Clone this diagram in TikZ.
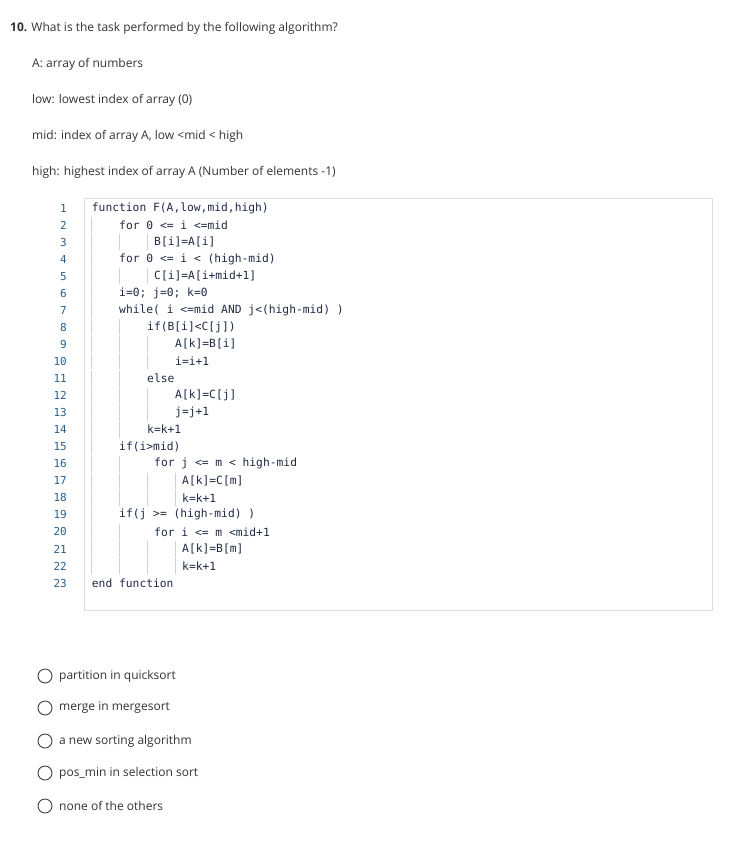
\documentclass[tikz,border=0pt]{standalone}
\usepackage{fontspec}
\setmainfont{Open Sans}
\setmonofont{DejaVu Sans Mono}
\definecolor{txt}{HTML}{333333}
\definecolor{lnum}{HTML}{2B5F8A}
\definecolor{code}{HTML}{1F2A44}
\definecolor{guide}{HTML}{D0D0D0}
\definecolor{frame}{HTML}{DDDDDD}
\begin{document}
\begin{tikzpicture}[x=1pt,y=-1pt,
  qtext/.style={anchor=west,inner sep=0,text=txt,font=\fontsize{12}{14}\selectfont},
  cline/.style={anchor=west,inner sep=0,text=code,font=\ttfamily\fontsize{11.3}{13}\selectfont},
  lno/.style={anchor=east,inner sep=0,text=lnum,font=\ttfamily\fontsize{11}{13}\selectfont},
  radio/.style={circle,draw=black!75,line width=0.9pt,minimum size=14pt,inner sep=0}]
\useasboundingbox (0,0) rectangle (746,841);
\node[qtext] (q) at (10,28) {\textbf{10.} What is the task performed by the following algorithm?};
\node[qtext] (l1) at (32,64) {A: array of numbers};
\node[qtext] (l2) at (32,100) {low: lowest index of array (0)};
\node[qtext] (l3) at (32,136) {mid: index of array A, low <mid < high};
\node[qtext] (l4) at (32,172) {high: highest index of array A (Number of elements -1)};
\draw[frame,line width=1pt] (84,198.5) rectangle (712.5,610);
% guides
\foreach \ln/\gs in {2/{91.7},3/{91.7,119,147},4/{91.7},5/{91.7,119,147},6/{91.7},7/{91.7},8/{91.7,119},9/{91.7,119,147},10/{91.7,119,147},11/{91.7,119},12/{91.7,119,147},13/{91.7,119,147},14/{91.7,119},15/{91.7},16/{91.7,119},17/{91.7,119,147,175},18/{91.7,119,147,175},19/{91.7},20/{91.7,119},21/{91.7,119,147,175},22/{91.7,119,147,175}}{
  \foreach \g in \gs {\draw[guide,line width=0.9pt] (\g,{208+(\ln-1)*17.05-8}) -- (\g,{208+(\ln-1)*17.05+8});}
}
\foreach \ln/\x/\t in {1/91.7/{function F(A,low,mid,high)},2/119/{for 0 <= i <=mid},3/154/{B[i]=A[i]},4/119/{for 0 <= i < (high-mid)},5/154/{C[i]=A[i+mid+1]},6/119/{i=0; j=0; k=0},7/119/{while( i <=mid  AND  j<(high-mid) )},8/147/{if(B[i]<C[j])},9/175/{A[k]=B[i]},10/175/{i=i+1},11/147/{else},12/175/{A[k]=C[j]},13/175/{j=j+1},14/147/{k=k+1},15/119/{if(i>mid)},16/154/{for j <= m < high-mid},17/182/{A[k]=C[m]},18/182/{k=k+1},19/119/{if(j >= (high-mid) )},20/154/{for i <= m <mid+1},21/182/{A[k]=B[m]},22/182/{k=k+1},23/91.7/{end function}}{
  \node[lno] (n\ln) at (67,{208+(\ln-1)*17.05}) {\ln};
  \node[cline] (c\ln) at (\x,{208+(\ln-1)*17.05}) {\obeyspaces\t};
}
\foreach \y/\t/\nm in {676/{partition in quicksort}/a,708/{merge in mergesort}/b,741/{a new sorting algorithm}/c,773/{pos\_min in selection sort}/d,806/{none of the others}/e}{
  \node[radio] (r\nm) at (45,\y) {};
  \node[qtext] (t\nm) at (59,\y) {\t};
}
\end{tikzpicture}
\end{document}
